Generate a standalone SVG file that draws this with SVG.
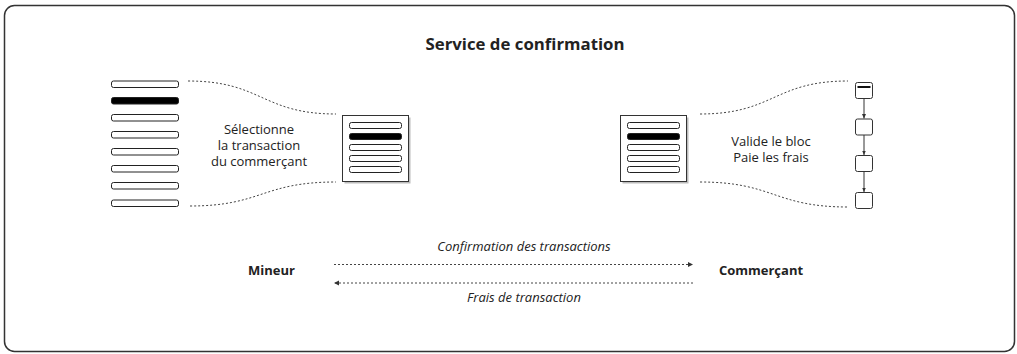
<svg xmlns="http://www.w3.org/2000/svg" width="1017" height="354" viewBox="0 0 1017 354">
  <defs>
    <marker id="tip" markerWidth="6" markerHeight="6" refX="5" refY="3" orient="auto" markerUnits="userSpaceOnUse">
      <path d="M0,0.5 L5,3 L0,5.5 Z" fill="#333"/>
    </marker>
    <marker id="tipSmall" markerWidth="5" markerHeight="5" refX="4.5" refY="2.5" orient="auto" markerUnits="userSpaceOnUse">
      <path d="M0,0.5 L4.5,2.5 L0,4.5 Z" fill="#333"/>
    </marker>
  </defs>
  <style>
    text { font-family: "Open Sans", "Noto Sans", "Liberation Sans", sans-serif; fill: #222; }
    .title { font-size: 16.8px; font-weight: bold; }
    .label { font-size: 13px; }
    .actor { font-size: 13px; font-weight: bold; }
    .flow { font-size: 13px; font-style: italic; }
    .tx { fill: #fff; stroke: #222; stroke-width: 1; }
    .tx.sel { fill: #000; }
    .card { fill: #fff; stroke: #333; stroke-width: 1; }
    .shadow { fill: #bbb; }
    .blk { fill: #fff; stroke: #333; stroke-width: 1; }
    .dots { fill: none; stroke: #444; stroke-width: 1; stroke-dasharray: 2 2; }
    .link { fill: none; stroke: #333; stroke-width: 1; }
  </style>

  <!-- outer frame -->
  <rect x="4.5" y="5.5" width="1010" height="346" rx="10" fill="#fff" stroke="#333" stroke-width="1.5"/>

  <text class="title" x="525" y="50" text-anchor="middle">Service de confirmation</text>

  <!-- mempool: pending transactions -->
  <g id="mempool">
    <rect class="tx" x="111.5" y="81" width="67" height="6.5" rx="2"/>
    <rect class="tx sel" x="111.5" y="97.5" width="67" height="6.5" rx="2"/>
    <rect class="tx" x="111.5" y="114.5" width="67" height="6.5" rx="2"/>
    <rect class="tx" x="111.5" y="131.5" width="67" height="6.5" rx="2"/>
    <rect class="tx" x="111.5" y="148.5" width="67" height="6.5" rx="2"/>
    <rect class="tx" x="111.5" y="165.5" width="67" height="6.5" rx="2"/>
    <rect class="tx" x="111.5" y="182.5" width="67" height="6.5" rx="2"/>
    <rect class="tx" x="111.5" y="200" width="67" height="6.5" rx="2"/>
  </g>

  <!-- selection step -->
  <g id="selection">
    <text class="label" x="259" y="133.5" text-anchor="middle">Sélectionne</text>
    <text class="label" x="259" y="149.5" text-anchor="middle">la transaction</text>
    <text class="label" x="259" y="165.5" text-anchor="middle">du commerçant</text>
  </g>

  <!-- candidate block built by the miner -->
  <g id="candidate-block">
    <rect class="shadow" x="344.5" y="117.5" width="66" height="66"/>
    <rect class="card" x="342.5" y="115.5" width="66" height="66"/>
    <rect class="tx" x="349.5" y="122.5" width="52" height="6" rx="2"/>
    <rect class="tx sel" x="349.5" y="133.5" width="52" height="6" rx="2"/>
    <rect class="tx" x="349.5" y="144.5" width="52" height="6" rx="2"/>
    <rect class="tx" x="349.5" y="155.5" width="52" height="6" rx="2"/>
    <rect class="tx" x="349.5" y="166.5" width="52" height="6" rx="2"/>
  </g>

  <!-- validated block -->
  <g id="validated-block">
    <rect class="shadow" x="622.5" y="117.5" width="66" height="66"/>
    <rect class="card" x="620.5" y="115.5" width="66" height="66"/>
    <rect class="tx" x="627.5" y="122.5" width="52" height="6" rx="2"/>
    <rect class="tx sel" x="627.5" y="133.5" width="52" height="6" rx="2"/>
    <rect class="tx" x="627.5" y="144.5" width="52" height="6" rx="2"/>
    <rect class="tx" x="627.5" y="155.5" width="52" height="6" rx="2"/>
    <rect class="tx" x="627.5" y="166.5" width="52" height="6" rx="2"/>
  </g>

  <g id="validation">
    <text class="label" x="771" y="145.5" text-anchor="middle">Valide le bloc</text>
    <text class="label" x="771" y="161.5" text-anchor="middle">Paie les frais</text>
  </g>

  <!-- blockchain -->
  <g id="chain">
    <rect class="blk" x="855.5" y="82.5" width="17" height="16" rx="2"/>
    <line x1="857.5" y1="87" x2="870.5" y2="87" stroke="#111" stroke-width="2"/>
    <rect class="blk" x="855.5" y="119" width="17" height="16" rx="2"/>
    <rect class="blk" x="855.5" y="155.5" width="17" height="16" rx="2"/>
    <rect class="blk" x="855.5" y="192.5" width="17" height="16" rx="2"/>
  </g>

  <g id="actors">
    <text class="actor" x="271.5" y="274.5" text-anchor="middle">Mineur</text>
    <text class="actor" x="761" y="274.5" text-anchor="middle">Commerçant</text>
  </g>

  <!-- connectors -->
  <g id="connectors">
    <path class="dots" d="M188,81 C262,81 262,114 336,114"/>
    <path class="dots" d="M190,206 C262,206 262,182 336,182"/>
    <path class="dots" d="M700,114 C774,114 774,81 848,81"/>
    <path class="dots" d="M700,182 C774,182 774,207 848,207"/>

    <line class="link" x1="864" y1="98.5" x2="864" y2="118.5" marker-end="url(#tipSmall)"/>
    <line class="link" x1="864" y1="135" x2="864" y2="155" marker-end="url(#tipSmall)"/>
    <line class="link" x1="864" y1="171.5" x2="864" y2="192" marker-end="url(#tipSmall)"/>

    <line class="dots" x1="334" y1="264.5" x2="693" y2="264.5" marker-end="url(#tip)"/>
    <text class="flow" x="524" y="250.5" text-anchor="middle">Confirmation des transactions</text>
    <line class="dots" x1="693" y1="283" x2="334" y2="283" marker-end="url(#tip)"/>
    <text class="flow" x="524" y="301.5" text-anchor="middle">Frais de transaction</text>
  </g>
</svg>
